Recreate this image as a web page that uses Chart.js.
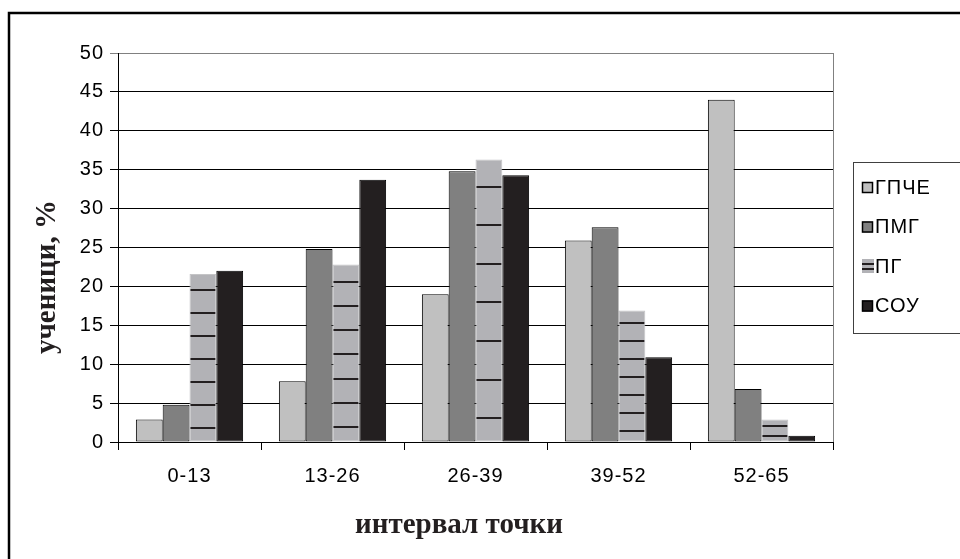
<!DOCTYPE html>
<html>
<head>
<meta charset="utf-8">
<script src="https://cdn.jsdelivr.net/npm/chart.js@4/dist/chart.umd.min.js"></script>
<style>
  html, body { margin: 0; padding: 0; background: #ffffff; }
  canvas { display: block; }
</style>
</head>
<body>
<canvas id="chart" width="960" height="559"></canvas>
<script>
// Score intervals and share of students (%) per school type
const intervals = ['0-13', '13-26', '26-39', '39-52', '52-65'];
const seriesNames = ['ГПЧЕ', 'ПМГ', 'ПГ', 'СОУ'];
const gpche = [2.9, 7.8, 19.0, 25.9, 44.0];
const pmg   = [4.8, 24.8, 34.8, 27.6, 6.8];
const pg    = [21.6, 22.8, 36.3, 16.9, 2.9];
const sou   = [22.0, 33.7, 34.3, 10.9, 0.8];
const yTicks = [0, 5, 10, 15, 20, 25, 30, 35, 40, 45, 50];
const yTitle = 'ученици, %';
const xTitle = 'интервал точки';

const fills = ['#c0c0c0', '#808080', '#b2b2b6', '#231f20'];
const edges = ['#000000', '#000000', '#c4c4c6', '#000000'];
const DASH = '#231f20';
const SANS = '"Liberation Sans", Arial, sans-serif';
const SERIF = '"Liberation Serif", "Times New Roman", serif';

const seriesValues = [gpche, pmg, pg, sou];

// Horizontal dash marks over the ПГ bars
function drawDashes(ctx, left, right, top, base) {
  const h = base - top;
  const step = Math.max(h / 7.3, 10);
  ctx.fillStyle = DASH;
  for (let i = 0; ; i++) {
    const y = base - step * (i + 0.6);
    if (y < top + 3) break;
    ctx.fillRect(left + 1, Math.round(y) - 1, right - left - 2, 2);
  }
}

const decor = {
  id: 'decor',
  beforeDraw(chart) {
    chart.ctx.letterSpacing = '1px';
  },
  afterDatasetsDraw(chart) {
    const ctx = chart.ctx;
    const meta = chart.getDatasetMeta(2);
    ctx.save();
    meta.data.forEach(bar => {
      const p = bar.getProps(['x', 'y', 'base', 'width'], true);
      drawDashes(ctx, p.x - p.width / 2, p.x + p.width / 2, p.y, p.base);
    });
    ctx.restore();
  },
  afterDraw(chart) {
    const ctx = chart.ctx;
    const a = chart.chartArea;
    ctx.save();
    ctx.letterSpacing = '0px';

    // plot area right edge
    ctx.strokeStyle = '#808080';
    ctx.lineWidth = 1;
    ctx.beginPath();
    ctx.moveTo(Math.round(a.right) + 0.5, a.top);
    ctx.lineTo(Math.round(a.right) + 0.5, a.bottom);
    ctx.stroke();

    // outer frame
    ctx.strokeStyle = '#000000';
    ctx.lineWidth = 2.5;
    ctx.strokeRect(9, 13, 1000, 600);

    // axis titles
    ctx.fillStyle = '#231f20';
    ctx.font = 'bold 29px ' + SERIF;
    ctx.textAlign = 'center';
    ctx.textBaseline = 'alphabetic';
    ctx.fillText(xTitle, 459, 533);
    ctx.save();
    ctx.translate(55, 277);
    ctx.rotate(-Math.PI / 2);
    ctx.fillText(yTitle, 0, 0);
    ctx.restore();

    // legend
    const lx = 853, ly = 162, lb = 333;
    ctx.strokeStyle = '#404040';
    ctx.lineWidth = 1;
    ctx.strokeRect(lx + 0.5, ly + 0.5, 200, lb - ly);
    const rows = [187, 226.5, 266, 305.5];
    ctx.font = '20px ' + SANS;
    ctx.letterSpacing = '1px';
    ctx.textAlign = 'left';
    ctx.textBaseline = 'middle';
    chart.data.datasets.forEach((ds, i) => {
      const cy = rows[i];
      if (i === 2) {
        ctx.fillStyle = ds.backgroundColor;
        ctx.fillRect(862, cy - 7, 12, 14);
        ctx.fillStyle = DASH;
        ctx.fillRect(862, cy - 3, 12, 2);
        ctx.fillRect(862, cy + 2, 12, 2);
      } else {
        ctx.fillStyle = ds.backgroundColor;
        ctx.fillRect(862, cy - 5, 11, 11);
        ctx.strokeStyle = '#000000';
        ctx.lineWidth = 1.5;
        ctx.strokeRect(862.5, cy - 4.5, 10, 10);
      }
      ctx.fillStyle = '#000000';
      ctx.fillText(ds.label, 875, cy + 1);
    });
    ctx.restore();
  }
};

new Chart(document.getElementById('chart'), {
  type: 'bar',
  data: {
    labels: intervals,
    datasets: seriesNames.map((name, i) => ({
      label: name,
      data: seriesValues[i],
      backgroundColor: fills[i],
      borderColor: edges[i],
      borderWidth: 1,
      borderSkipped: false,
      categoryPercentage: 0.75,
      barPercentage: 1.0
    }))
  },
  options: {
    responsive: false,
    animation: false,
    devicePixelRatio: 1,
    layout: { padding: { left: 0, right: 127, top: 53, bottom: 57 } },
    plugins: {
      legend: { display: false },
      tooltip: { enabled: false },
      title: { display: false }
    },
    scales: {
      x: {
        grid: {
          display: true,
          drawOnChartArea: false,
          drawTicks: true,
          tickLength: 8,
          color: '#000000',
          lineWidth: 1,
          offset: true
        },
        border: { display: true, color: '#000000', width: 1 },
        ticks: {
          color: '#000000',
          font: { family: SANS, size: 20 },
          padding: 14,
          maxRotation: 0,
          autoSkip: false
        }
      },
      y: {
        min: 0,
        max: 50,
        afterFit(scale) { scale.width = 118; },
        afterBuildTicks(scale) { scale.ticks = yTicks.map(v => ({ value: v })); },
        grid: {
          drawTicks: true,
          tickLength: 8,
          color: ctx => (ctx.tick && ctx.tick.value === 50 ? '#808080' : '#000000'),
          lineWidth: 1
        },
        border: { display: true, color: '#000000', width: 1 },
        ticks: {
          color: '#000000',
          font: { family: SANS, size: 20 },
          padding: 6
        }
      }
    }
  },
  plugins: [decor]
});
</script>
</body>
</html>
